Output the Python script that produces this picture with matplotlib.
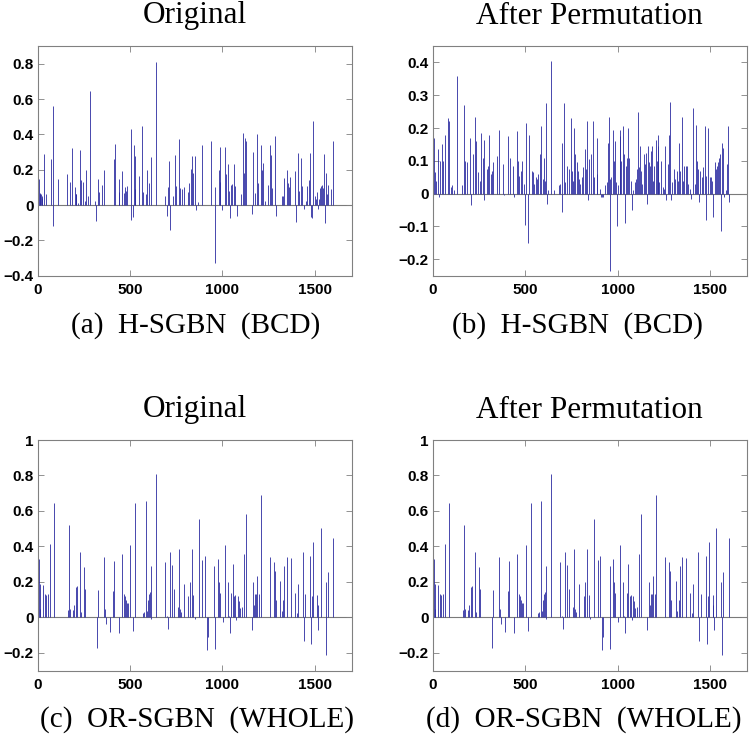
import matplotlib
matplotlib.use("Agg")
import matplotlib.pyplot as plt

# ---------------- data ----------------
# (a) H-SGBN (BCD), Original
a_idx = [9, 12, 15, 18, 21, 25, 32, 47, 70, 81, 83, 112, 160, 173, 188, 202, 205, 209, 218, 227, 236, 247,
         255, 263, 270, 283, 312, 317, 327, 332, 350, 359, 411, 417, 438, 442, 458, 466, 471, 480, 486,
         503, 505, 518, 523, 525, 529, 547, 567, 572, 588, 594, 605, 615, 642, 689, 700, 708, 713, 718,
         734, 745, 749, 767, 772, 781, 794, 816, 821, 828, 837, 843, 852, 856, 868, 891, 938, 958, 962,
         980, 985, 987, 999, 1012, 1019, 1030, 1034, 1041, 1048, 1054, 1061, 1068, 1081, 1103, 1113,
         1119, 1122, 1128, 1160, 1168, 1175, 1189, 1195, 1207, 1214, 1220, 1231, 1249, 1260, 1265, 1270,
         1285, 1290, 1323, 1330, 1335, 1348, 1355, 1360, 1366, 1395, 1400, 1408, 1413, 1424, 1431, 1440,
         1453, 1460, 1467, 1474, 1480, 1485, 1492, 1500, 1507, 1513, 1518, 1523, 1529, 1534, 1538, 1545,
         1550, 1557, 1563, 1568, 1574, 1590, 1601]
a_val = [0.15, 0.07, 0.065, 0.06, 0.05, 0.04, 0.29, 0.06, 0.26, 0.56, -0.12, 0.145, 0.175, 0.13, 0.32, 0.10,
         0.06, 0.06, 0.01, 0.31, 0.14, 0.13, 0.02, 0.20, 0.05, 0.645, 0.02, -0.09, 0.15, 0.075, 0.115, 0.20,
         0.26, 0.345, 0.075, 0.15, 0.19, 0.07, 0.10, 0.08, 0.11, 0.43, -0.085, -0.065, 0.34, 0.275, 0.09,
         0.165, 0.45, 0.075, 0.06, 0.20, 0.125, 0.27, 0.81, 0.05, -0.06, 0.10, 0.25, -0.14, 0.05, 0.285,
         0.105, 0.375, 0.095, 0.09, 0.10, 0.075, 0.125, 0.205, 0.28, 0.18, 0.28, -0.03, 0.015, 0.34, 0.36,
         0.10, -0.33, 0.20, 0.33, 0.13, -0.03, 0.33, 0.175, 0.235, 0.08, -0.075, 0.115, 0.12, 0.23, 0.11,
         -0.06, 0.065, 0.405, 0.18, 0.38, 0.365, -0.05, 0.30, 0.07, 0.40, 0.125, 0.34, 0.20, 0.24, 0.02,
         0.115, 0.34, 0.285, 0.095, 0.39, -0.06, 0.05, 0.05, 0.155, 0.20, 0.125, 0.10, 0.16, 0.19, -0.095,
         0.295, 0.08, 0.265, 0.11, -0.02, 0.025, 0.11, 0.14, 0.295, -0.065, -0.075, 0.475, 0.05, 0.035,
         0.075, -0.02, 0.035, 0.095, 0.11, 0.115, 0.095, 0.29, -0.10, 0.18, 0.06, 0.115, 0.09, 0.365]

# (b) H-SGBN (BCD), After Permutation
b_idx = [9, 13, 16, 31, 36, 41, 52, 57, 68, 85, 90, 97, 106, 117, 133, 158, 171, 176, 187, 204, 209, 218,
         227, 236, 247, 256, 263, 270, 276, 279, 292, 299, 306, 313, 322, 328, 346, 357, 382, 387, 409,
         418, 436, 440, 458, 463, 469, 476, 483, 492, 500, 503, 517, 523, 535, 544, 550, 559, 562, 571,
         580, 588, 595, 604, 607, 615, 620, 626, 642, 656, 681, 690, 701, 702, 708, 717, 728, 739, 746,
         751, 760, 766, 772, 779, 784, 791, 797, 806, 815, 824, 831, 836, 840, 847, 854, 869, 872, 887,
         890, 903, 909, 916, 921, 934, 941, 946, 952, 957, 961, 966, 973, 979, 984, 991, 999, 1004, 1011,
         1015, 1020, 1027, 1033, 1038, 1044, 1051, 1058, 1064, 1071, 1080, 1085, 1092, 1101, 1107, 1112,
         1118, 1123, 1128, 1134, 1141, 1146, 1152, 1159, 1166, 1172, 1177, 1183, 1188, 1193, 1199, 1206,
         1211, 1217, 1220, 1226, 1237, 1246, 1251, 1258, 1264, 1271, 1278, 1283, 1289, 1296, 1307, 1312,
         1320, 1327, 1332, 1338, 1348, 1355, 1361, 1368, 1374, 1381, 1390, 1399, 1408, 1417, 1422, 1428,
         1435, 1440, 1447, 1455, 1460, 1471, 1476, 1480, 1491, 1498, 1505, 1512, 1518, 1525, 1531, 1536,
         1543, 1550, 1556, 1561, 1565, 1572, 1577, 1585, 1592, 1599, 1603]
b_val = [0.17, 0.065, 0.04, 0.135, -0.01, 0.10, 0.15, 0.10, 0.18, 0.23, 0.22, 0.02, 0.025, 0.01, 0.36, 0.025,
         0.27, 0.10, 0.095, 0.17, -0.035, 0.12, 0.235, 0.16, 0.065, 0.04, 0.185, 0.11, -0.02, 0.165, 0.075,
         0.085, 0.18, 0.06, 0.07, 0.095, 0.115, 0.195, 0.09, -0.005, 0.175, 0.11, 0.085, -0.01, 0.19, 0.10,
         0.055, 0.07, 0.10, 0.03, -0.095, 0.215, -0.15, 0.18, 0.07, 0.065, 0.03, 0.05, 0.045, 0.06, 0.12,
         0.205, 0.045, 0.11, 0.04, 0.275, -0.03, 0.01, 0.405, 0.01, 0.025, 0.03, 0.155, -0.055, 0.275,
         0.035, 0.085, 0.075, 0.23, 0.07, 0.04, 0.20, 0.12, 0.095, 0.07, 0.045, 0.03, 0.05, 0.08, 0.135,
         0.075, 0.22, -0.02, 0.105, 0.12, 0.22, 0.05, 0.06, 0.17, 0.015, -0.01, -0.01, -0.01, 0.025, 0.035,
         0.155, 0.235, 0.045, -0.235, 0.05, 0.195, 0.10, 0.16, 0.035, -0.10, 0.025, 0.195, 0.175, 0.10,
         0.205, 0.12, -0.09, 0.085, 0.11, 0.20, 0.11, 0.04, -0.05, 0.01, 0.035, 0.045, 0.075, 0.25, 0.08,
         0.145, 0.07, 0.03, 0.12, 0.09, 0.125, -0.03, 0.145, 0.095, 0.085, 0.13, 0.145, 0.04, 0.085,
         0.165, 0.10, 0.145, 0.18, 0.035, 0.10, 0.02, 0.015, 0.145, -0.02, 0.09, 0.18, 0.28, -0.02, 0.035,
         0.075, 0.045, 0.07, 0.04, 0.155, 0.07, 0.235, 0.04, 0.085, 0.085, 0.085, 0.03, 0.015, -0.015,
         0.26, 0.03, 0.21, 0.10, 0.075, -0.025, 0.07, 0.05, 0.08, 0.205, 0.055, -0.08, 0.20, 0.05, 0.05,
         0.04, -0.07, 0.095, 0.075, 0.085, 0.095, 0.11, 0.12, -0.115, 0.155, 0.14, -0.01, 0.01, 0.09,
         0.205, -0.025]

# (c)/(d) OR-SGBN (WHOLE): Original and After Permutation
c_idx = [9, 11, 14, 31, 38, 45, 54, 68, 86, 166, 171, 177, 189, 198, 206, 213, 229, 236, 249, 258, 319,
         325, 357, 363, 368, 392, 406, 415, 438, 458, 467, 473, 478, 485, 491, 502, 518, 529, 568, 574,
         588, 592, 599, 604, 609, 611, 615, 642, 691, 700, 707, 716, 729, 738, 758, 765, 770, 774, 792,
         816, 826, 837, 843, 852, 872, 892, 906, 915, 922, 957, 960, 975, 980, 987, 1001, 1014, 1029,
         1034, 1040, 1049, 1059, 1065, 1070, 1076, 1083, 1088, 1095, 1106, 1115, 1128, 1160, 1168, 1173,
         1179, 1184, 1189, 1200, 1209, 1258, 1278, 1284, 1289, 1314, 1321, 1330, 1335, 1348, 1372, 1392,
         1403, 1408, 1435, 1440, 1449, 1476, 1481, 1487, 1493, 1514, 1518, 1520, 1532, 1561, 1563, 1572,
         1601]
c_val = [0.33, 0.19, 0.045, 0.185, 0.13, 0.125, 0.135, 0.415, 0.645, 0.04, 0.52, 0.05, 0.04, 0.07, 0.17,
         0.175, 0.37, 0.03, 0.285, 0.16, -0.17, 0.155, 0.34, 0.045, -0.035, -0.08, 0.15, 0.32, -0.09, 0.355,
         0.13, 0.12, 0.10, 0.08, 0.08, 0.41, -0.075, 0.645, 0.025, 0.03, 0.655, 0.035, 0.10, 0.135, 0.145,
         -0.01, 0.29, 0.81, 0.31, 0.01, -0.065, 0.37, 0.295, 0.16, 0.06, 0.385, 0.05, 0.03, 0.19, 0.12,
         0.20, 0.385, 0.125, -0.01, 0.555, 0.325, 0.345, -0.185, -0.11, 0.29, -0.18, 0.33, 0.20, 0.14,
         -0.025, 0.41, 0.20, 0.01, -0.085, 0.14, 0.30, 0.12, 0.125, -0.015, 0.12, 0.09, 0.055, 0.06, 0.355,
         0.585, -0.07, 0.20, 0.07, 0.135, 0.135, 0.235, 0.135, 0.69, 0.34, 0.31, 0.26, 0.10, 0.205, 0.035,
         0.10, 0.29, 0.34, 0.335, 0.14, 0.025, 0.19, 0.37, -0.13, 0.135, 0.345, -0.15, 0.12, 0.425, 0.125,
         0.07, -0.07, 0.505, 0.20, -0.21, 0.255, 0.445]

panels = [
    dict(idx=a_idx, val=a_val, ylim=(-0.4, 0.9), yticks=[-0.4, -0.2, 0, 0.2, 0.4, 0.6, 0.8],
         ylabels=['\u22120.4', '\u22120.2', '0', '0.2', '0.4', '0.6', '0.8'],
         title='Original', caption='(a)  H-SGBN  (BCD)'),
    dict(idx=b_idx, val=b_val, ylim=(-0.25, 0.45), yticks=[-0.2, -0.1, 0, 0.1, 0.2, 0.3, 0.4],
         ylabels=['\u22120.2', '\u22120.1', '0', '0.1', '0.2', '0.3', '0.4'],
         title='After Permutation', caption='(b)  H-SGBN  (BCD)'),
    dict(idx=c_idx, val=c_val, ylim=(-0.3, 1.0), yticks=[-0.2, 0, 0.2, 0.4, 0.6, 0.8, 1.0],
         ylabels=['\u22120.2', '0', '0.2', '0.4', '0.6', '0.8', '1'],
         title='Original', caption='(c)  OR-SGBN  (WHOLE)'),
    dict(idx=c_idx, val=c_val, ylim=(-0.3, 1.0), yticks=[-0.2, 0, 0.2, 0.4, 0.6, 0.8, 1.0],
         ylabels=['\u22120.2', '0', '0.2', '0.4', '0.6', '0.8', '1'],
         title='After Permutation', caption='(d)  OR-SGBN  (WHOLE)'),
]
xticks = [0, 500, 1000, 1500]
xlabels = ['0', '500', '1000', '1500']

# ---------------- figure ----------------
W, H = 754, 748
fig = plt.figure(figsize=(W / 100, H / 100), dpi=100)

# axes boxes in pixels: left, right, top, bottom
boxes = [(37.7, 351.7, 46, 275.7), (432.7, 747, 46, 275.7),
         (37.7, 351.7, 440, 670.7), (432.7, 747, 440, 670.7)]
title_y = [16, 16, 410, 410]
cap_y = [326, 326, 720, 720]
cap_x = [196, 577, 197, 584]

serif = ['Liberation Serif', 'DejaVu Serif']
for p, (l, r, t, b), ty, cy, cx_pix in zip(panels, boxes, title_y, cap_y, cap_x):
    ax = fig.add_axes([l / W, 1 - b / H, (r - l) / W, (b - t) / H])
    ax.vlines(p['idx'], 0, p['val'], colors='#2a2aa0', linewidth=0.6)
    ax.axhline(0, color='#7a7a7a', linewidth=0.8, zorder=0)
    ax.set_xlim(0, 1700)
    ax.set_ylim(*p['ylim'])
    ax.set_xticks(xticks)
    ax.set_xticklabels(xlabels)
    ax.set_yticks(p['yticks'])
    ax.set_yticklabels(p['ylabels'])
    ax.tick_params(direction='in', length=4, width=0.6, color='#808080',
                   top=True, right=True, labelsize=11, pad=3)
    ax.tick_params(axis='x', pad=5)
    for lab in ax.get_xticklabels() + ax.get_yticklabels():
        lab.set_fontfamily(['Liberation Sans', 'DejaVu Sans'])
        lab.set_fontweight('bold')
    for s in ax.spines.values():
        s.set_color('#808080')
        s.set_linewidth(0.8)
    cx = (l + r) / 2 / W
    fig.text(cx, 1 - ty / H, p['title'], ha='center', va='center', fontsize=22.5, family=serif)
    fig.text(cx_pix / W, 1 - cy / H, p['caption'], ha='center', va='center', fontsize=21, family=serif)

fig.savefig('out.png', dpi=100)
